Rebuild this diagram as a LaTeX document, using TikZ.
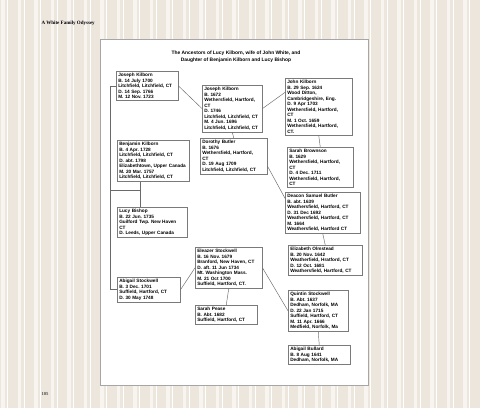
\documentclass[tikz,border=0pt]{standalone}
\usepackage{fontspec}
\setmainfont{Liberation Sans}
\newfontfamily\headserif{Liberation Serif}
\usetikzlibrary{calc}
\definecolor{wallBeige}{HTML}{ECE6DD}
\definecolor{wallStripe}{HTML}{F8F5F0}
\definecolor{boxgray}{HTML}{7A7A7A}
\definecolor{linegray}{HTML}{6A6A6A}
\tikzset{
  person/.style={draw=boxgray, fill=white, line width=0.5pt, inner sep=2pt,
                 align=left, anchor=north west,
                 font=\fontsize{4.7}{5.5}\selectfont\bfseries\frenchspacing},
  link/.style={draw=linegray, line width=0.45pt},
}

\begin{document}
\begin{tikzpicture}[x=1pt,y=-1pt]
  \useasboundingbox (0,0) rectangle (480,408);
  % --- wallpaper ---
  \fill[wallBeige] (0,0) rectangle (480,408);
  \foreach \s in {0,16.5,...,480}{
    \fill[wallStripe] (\s+1,0) rectangle (\s+4.5,408);
    \fill[white] (\s+7,0) rectangle (\s+7.8,408);
  }
  \node[anchor=west, font=\headserif\fontsize{5}{6}\selectfont\bfseries] (runhead) at (38,23) {A White Family Odyssey};
  \node[anchor=west, font=\headserif\fontsize{4.6}{6}\selectfont\bfseries, gray!60!black] (folio) at (38,394) {105};
  % --- page ---
  \fill[white] (100,39) rectangle (368,385);
  \draw[gray!70, line width=0.5pt] (100,39) rectangle (368,385);
  \node[font=\fontsize{4.9}{7}\selectfont\bfseries, align=center] (title) at (236,56.5)
    {The Ancestors of Lucy Kilborn, wife of John White, and\\Daughter of Benjamin Kilborn and Lucy Bishop};
  % --- first column ---
  \node[person, text width=58] (jkA) at (116,71)
    {Joseph Kilborn\\B. 14 July 1700\\Litchfield, Litchfield, CT\\D. 14 Sep. 1766\\M. 12 Nov. 1723};
  \node[person, text width=68] (bk) at (117,140)
    {Benjamin Kilborn\\B. 4 Apr. 1728\\Litchfield, Litchfield, CT\\D. abt. 1798\\Elizabethtown, Upper Canada\\M. 20 Mar. 1757\\Litchfield, Litchfield, CT};
  \node[person, text width=66] (lb) at (117,207)
    {Lucy Bishop\\B. 22 Jun. 1735\\Guilford Twp. New Haven\\CT\\D. Leeds, Upper Canada};
  \node[person, text width=59] (asA) at (117,277)
    {Abigail Stockwell\\B. 3 Dec. 1701\\Suffield, Hartford, CT\\D. 30 May 1748};
  % --- second column ---
  \node[person, text width=56] (jkB) at (202,85)
    {Joseph Kilborn\\B. 1672\\Wethersfield, Hartford,\\CT\\D. 1746\\Litchfield, Litchfield, CT\\M. 4 Jun. 1696\\Litchfield, Litchfield, CT};
  \node[person, text width=63] (db) at (200,138)
    {Dorothy Butler\\B. 1676\\Wethersfield, Hartford,\\CT\\D. 19 Aug 1709\\Litchfield, Litchfield, CT};
  \node[person, text width=63] (es) at (195,247)
    {Eleazer Stockwell\\B. 16 Nov. 1679\\Branford, New Haven, CT\\D. aft. 11 Jun 1734\\Mt. Washington Mass.\\M. 21 Oct 1700\\Suffield, Hartford, CT.};
  \node[person, text width=58] (spz) at (195,305)
    {Sarah Pease\\B. Abt. 1682\\Suffield, Hartford, CT};
  % --- third column ---
  \node[person, text width=63] (jn) at (285,78)
    {John Kilborn\\B. 29 Sep. 1624\\Wood Ditton,\\Cambridgeshire, Eng.\\D. 9 Apr 1703\\Wethersfield, Hartford,\\CT\\M. 1 Oct. 1659\\Wethersfield, Hartford,\\CT.};
  \node[person, text width=62] (sb) at (287,147)
    {Sarah Brownson\\B. 1629\\Wethersfield, Hartford,\\CT\\D. 4 Dec. 1711\\Wethersfield, Hartford,\\CT};
  \node[person, text width=71] (ds) at (285,192)
    {Deacon Samuel Butler\\B. abt. 1639\\Weathersfield, Hartford, CT\\D. 31 Dec 1692\\Weathersfield, Hartford, CT\\M. 1664\\Weathersfield, Hartford CT};
  \node[person, text width=70] (eo) at (288,245)
    {Elizabeth Olmstead\\B. 20 Nov. 1642\\Weatherfield, Hratford, CT\\D. 12 Oct. 1681\\Weathersfield, Hartford, CT};
  \node[person, text width=56] (qs) at (288,290)
    {Quintin Stockwell\\B. Abt. 1637\\Dedham, Norfolk, MA\\D. 22 Jan 1715\\Suffield, Hartford, CT\\M. 11 Apr. 1666\\Medfield, Norfolk, Ma};
  \node[person, text width=58] (ab) at (288,345)
    {Abigail Bullard\\B. 8 Aug 1641\\Dedham, Norfolk, MA};
  % --- connectors ---
  \draw[link] (jkA.west) -- ++(-6,0) coordinate (spine) |- (asA.west);
  \coordinate (couple) at (140,190);
  \draw[link] (bk.south -| couple) -- (lb.north -| couple);
  \draw[link] (couple) -- (couple -| spine);
  \draw[link] (jkA.east) -- (jkB.west);
  \draw[link] (asA.east) -- (es.west);
  \draw[link] (jkB.east) -- ($(jn.north west)!0.25!(jn.south west)$);
  \draw[link] (jkB.south) -- (db.north);
  \draw[link] ($(db.north east)!0.78!(db.south east)$) -- ($(ds.north west)!0.15!(ds.south west)$);
  \draw[link] (es.east) -- (qs.west);
  \draw[link] (es.south) -- (spz.north);
  \draw[link] (jn.south) -- (sb.north);
  \draw[link] (ds.south) -- (eo.north);
  \draw[link] (qs.south) -- (ab.north);
\end{tikzpicture}
\end{document}
